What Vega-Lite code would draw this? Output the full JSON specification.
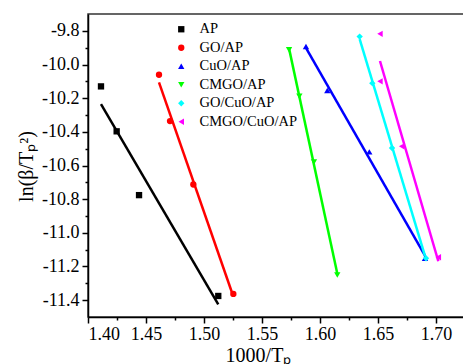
{
  "$schema": "https://vega.github.io/schema/vega-lite/v6.json",
  "width": 377,
  "height": 303,
  "autosize": "none",
  "padding": {"left": 88, "top": 14, "right": 0, "bottom": 47},
  "background": "white",
  "config": {
    "font": "Liberation Serif",
    "view": {"stroke": "#333333", "strokeWidth": 1.5},
    "axis": {
      "grid": false,
      "domainColor": "black",
      "domainWidth": 1.5,
      "tickColor": "black",
      "tickWidth": 1.5,
      "labelFont": "Liberation Serif",
      "labelFontSize": 18,
      "labelColor": "black",
      "titleFont": "Liberation Serif",
      "titleFontSize": 20,
      "titleFontWeight": "normal",
      "titleColor": "black"
    },
    "legend": {
      "orient": "none",
      "legendX": 86,
      "legendY": 8,
      "padding": 0,
      "labelFont": "Liberation Serif",
      "labelFontSize": 14.5,
      "labelColor": "black",
      "symbolSize": 40,
      "labelOffset": 11,
      "rowPadding": 3.5,
      "symbolStrokeWidth": 0
    }
  },
  "data": {
    "values": [
      {"series": "AP", "x": 1.4112, "y": -10.13},
      {"series": "AP", "x": 1.4247, "y": -10.397},
      {"series": "AP", "x": 1.444, "y": -10.776},
      {"series": "AP", "x": 1.5123, "y": -11.375},
      {"series": "GO/AP", "x": 1.4612, "y": -10.061},
      {"series": "GO/AP", "x": 1.4707, "y": -10.336},
      {"series": "GO/AP", "x": 1.4908, "y": -10.713},
      {"series": "GO/AP", "x": 1.5253, "y": -11.363},
      {"series": "CuO/AP", "x": 1.5879, "y": -9.893},
      {"series": "CuO/AP", "x": 1.6063, "y": -10.154},
      {"series": "CuO/AP", "x": 1.6425, "y": -10.519},
      {"series": "CuO/AP", "x": 1.6905, "y": -11.151},
      {"series": "CMGO/AP", "x": 1.5733, "y": -9.913},
      {"series": "CMGO/AP", "x": 1.5822, "y": -10.189},
      {"series": "CMGO/AP", "x": 1.5948, "y": -10.579},
      {"series": "CMGO/AP", "x": 1.6149, "y": -11.25},
      {"series": "GO/CuO/AP", "x": 1.6342, "y": -9.834},
      {"series": "GO/CuO/AP", "x": 1.6451, "y": -10.111},
      {"series": "GO/CuO/AP", "x": 1.6621, "y": -10.496},
      {"series": "GO/CuO/AP", "x": 1.6914, "y": -11.151},
      {"series": "CMGO/CuO/AP", "x": 1.6517, "y": -9.818},
      {"series": "CMGO/CuO/AP", "x": 1.6517, "y": -10.1},
      {"series": "CMGO/CuO/AP", "x": 1.6704, "y": -10.486},
      {"series": "CMGO/CuO/AP", "x": 1.702, "y": -11.145}
    ]
  },
  "layer": [
    {
      "transform": [{"regression": "y", "on": "x", "groupby": ["series"]}],
      "mark": {"type": "line", "strokeWidth": 2.5, "clip": true},
      "encoding": {
        "x": {
          "field": "x", "type": "quantitative",
          "scale": {"domain": [1.4, 1.725], "nice": false, "zero": false},
          "axis": {"orient": "bottom", "values": [1.425, 1.475, 1.525, 1.575, 1.625, 1.675], "labels": false, "domain": false, "tickSize": 3, "title": null}
        },
        "y": {
          "field": "y", "type": "quantitative",
          "scale": {"domain": [-11.5, -9.7], "nice": false, "zero": false},
          "axis": {"orient": "left", "values": [-9.9, -10.1, -10.3, -10.5, -10.7, -10.9, -11.1, -11.3], "labels": false, "domain": false, "tickSize": 3, "title": null}
        },
        "stroke": {
          "field": "series", "type": "nominal",
          "scale": {
            "domain": ["AP", "CMGO/AP", "CMGO/CuO/AP", "CuO/AP", "GO/AP", "GO/CuO/AP"],
            "range": ["#000000", "#00ff00", "#ff00ff", "#0000ff", "#ff0000", "#00ffff"]
          },
          "legend": null
        }
      }
    },
    {
      "mark": {"type": "point", "filled": true, "size": 40, "opacity": 1},
      "encoding": {
        "x": {
          "field": "x", "type": "quantitative",
          "axis": {
            "orient": "bottom",
            "values": [1.4, 1.45, 1.5, 1.55, 1.6, 1.65, 1.7],
            "format": ".2f",
            "tickSize": 6,
            "labelPadding": 2,
            "title": "1000/Tₚ",
            "titleX": 170,
            "titleY": 28,
            "titleBaseline": "top",
            "titleAnchor": "middle"
          }
        },
        "y": {
          "field": "y", "type": "quantitative",
          "axis": {
            "orient": "left",
            "values": [-9.8, -10.0, -10.2, -10.4, -10.6, -10.8, -11.0, -11.2, -11.4],
            "labelExpr": "replace(format(datum.value, '.1f'), '\u2212', '-')",
            "tickSize": 6,
            "labelPadding": 3,
            "title": "ln(β/Tₚ²)",
            "titleX": -52,
            "titleY": 152,
            "titleAngle": -90,
            "titleBaseline": "bottom",
            "titleAnchor": "middle"
          }
        },
        "color": {
          "field": "series", "type": "nominal",
          "scale": {
            "domain": ["AP", "GO/AP", "CuO/AP", "CMGO/AP", "GO/CuO/AP", "CMGO/CuO/AP"],
            "range": ["#000000", "#ff0000", "#0000ff", "#00ff00", "#00ffff", "#ff00ff"]
          },
          "legend": {"title": null}
        },
        "shape": {
          "field": "series", "type": "nominal",
          "scale": {
            "domain": ["AP", "GO/AP", "CuO/AP", "CMGO/AP", "GO/CuO/AP", "CMGO/CuO/AP"],
            "range": ["square", "circle", "triangle-up", "triangle-down", "diamond", "triangle-left"]
          },
          "legend": {"title": null}
        }
      }
    }
  ],
  "resolve": {"axis": {"x": "independent", "y": "independent"}}
}
